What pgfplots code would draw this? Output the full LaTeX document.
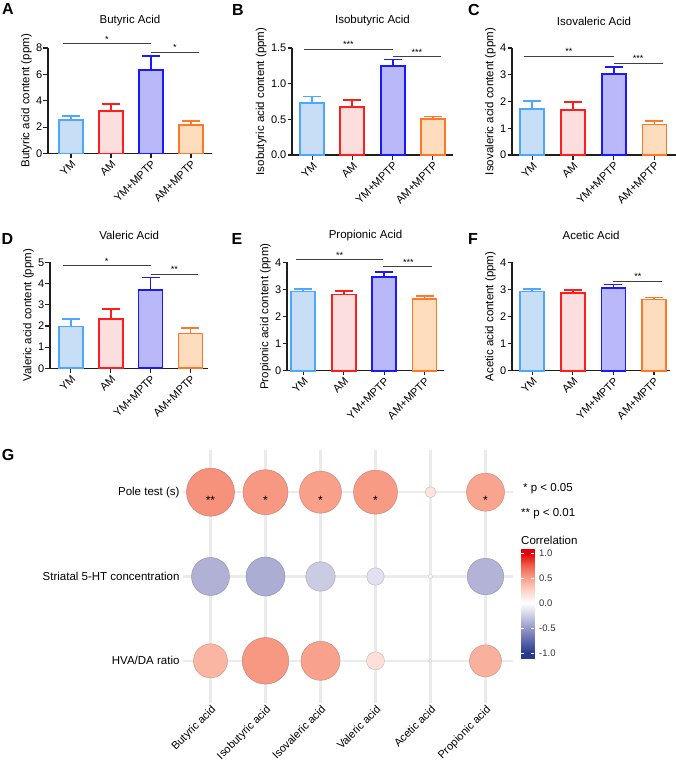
\documentclass[border=0pt]{standalone}
\usepackage{fontspec}
\setmainfont{Liberation Sans}
\usepackage{pgfplots}
\pgfplotsset{compat=1.18}
\usepackage{pgfplotstable}

\definecolor{ymE}{RGB}{77,166,255}
\definecolor{ymF}{RGB}{200,222,246}
\definecolor{amE}{RGB}{255,30,30}
\definecolor{amF}{RGB}{253,222,222}
\definecolor{ympE}{RGB}{25,25,255}
\definecolor{ympF}{RGB}{185,185,250}
\definecolor{ampE}{RGB}{255,120,40}
\definecolor{ampF}{RGB}{253,221,190}
\definecolor{axc}{RGB}{30,30,30}
\definecolor{gridc}{RGB}{235,235,235}

\newcommand{\fs}[1]{\fontsize{#1}{#1}\selectfont}

\pgfplotsset{
  /pgf/number format/assume math mode=true,
  colormap={corr}{rgb255(0cm)=(38,58,140) rgb255(1cm)=(95,105,170) rgb255(2cm)=(150,152,200) rgb255(3cm)=(205,205,228) rgb255(4cm)=(255,255,255) rgb255(5cm)=(252,212,200) rgb255(6cm)=(248,160,138) rgb255(7cm)=(240,95,75) rgb255(8cm)=(228,0,10)},
  barpanel/.style={
    scale only axis, clip=false,
    axis x line*=bottom, axis y line*=left,
    axis line style={line width=1.2pt, color=axc},
    tick style={line width=1.2pt, color=axc},
    tick align=outside, major tick length=4.5pt,
    ymin=0,
    xtick={0,1,2,3}, xticklabels={YM,AM,YM+MPTP,AM+MPTP},
    xticklabel style={rotate=45, anchor=north east, inner sep=1pt, font=\fs{11}},
    yticklabel style={font=\fs{11}, inner sep=1pt},
    ylabel style={font=\fs{11.5}},
    title style={font=\fs{11.5}, at={(0.5,1)}, anchor=center, yshift=21pt},
  },
  bstyle/.style 2 args={
    ybar, bar width=24pt, bar shift=0pt, draw=#1, fill=#2, line width=1.8pt,
    error bars/.cd, y dir=plus, y explicit,
    error bar style={line width=1.8pt, draw=#1, solid},
    error mark options={rotate=90, mark size=9pt, line width=1.8pt, draw=#1, solid},
  },
}

\newcommand{\fourbars}[8]{%
  \addplot[bstyle={ymE}{ymF}] coordinates {(0,#1) +- (0,#2)};
  \addplot[bstyle={amE}{amF}] coordinates {(1,#3) +- (0,#4)};
  \addplot[bstyle={ympE}{ympF}] coordinates {(2,#5) +- (0,#6)};
  \addplot[bstyle={ampE}{ampF}] coordinates {(3,#7) +- (0,#8)};
}
\newcommand{\sig}[5]{%
  \addplot[sharp plot, no marks, line width=0.9pt, color=axc!85] coordinates {(#1,#3) (#2,#3)};
  \node[anchor=base, inner sep=0pt, font=\fs{9}, yshift=1.5pt] at (axis cs:#4,#3) {#5};
}

\pgfplotstableread{
x y c r
1 3 0.56 24
2 3 0.53 22.5
3 3 0.50 21
4 3 0.52 22
5 3 0.15 5.5
6 3 0.48 19
1 2 -0.38 19
2 2 -0.40 19.5
3 2 -0.26 14.7
4 2 -0.15 8.7
5 2 -0.02 2
6 2 -0.37 18.3
1 1 0.40 17
2 1 0.53 23.3
3 1 0.49 19.5
4 1 0.18 9
5 1 0.02 1.5
6 1 0.42 16
}\corrdata

\pgfplotstableread{
x y s
1 3 **
2 3 *
3 3 *
4 3 *
6 3 *
}\stardata

\begin{document}
\begin{tikzpicture}
\useasboundingbox (0pt,0pt) rectangle (676pt,-765pt);

% ---------- A ----------
\begin{axis}[barpanel, at={(48pt,-153.5pt)}, anchor=south west, width=164pt, height=105.5pt,
  xmin=-0.575, xmax=3.525, ymax=8, ytick={0,2,4,6,8},
  title={Butyric Acid}, ylabel={Butyric acid content (ppm)}]
\fourbars{2.52}{0.33}{3.2}{0.56}{6.36}{1.04}{2.15}{0.30}
\sig{-0.2}{2}{8.33}{0.9}{*}
\sig{2}{3.2}{7.7}{2.6}{*}
\end{axis}

% ---------- B ----------
\begin{axis}[barpanel, at={(292pt,-155pt)}, anchor=south west, width=161pt, height=107pt,
  xmin=-0.5, xmax=3.5, ymax=1.5, ytick={0,0.5,1,1.5},
  yticklabel style={/pgf/number format/.cd, fixed, fixed zerofill, precision=1},
  title={Isobutyric Acid}, ylabel={Isobutyric acid content (ppm)}]
\fourbars{0.73}{0.09}{0.675}{0.095}{1.25}{0.09}{0.5}{0.04}
\sig{-0.2}{2}{1.48}{0.9}{***}
\sig{2}{3.2}{1.38}{2.6}{***}
\end{axis}

% ---------- C ----------
\begin{axis}[barpanel, at={(512pt,-155pt)}, anchor=south west, width=164pt, height=107pt,
  xmin=-0.5, xmax=3.53, ymax=4, ytick={0,1,2,3,4},
  title={Isovaleric Acid}, ylabel={Isovaleric acid content (ppm)}]
\fourbars{1.71}{0.31}{1.68}{0.30}{3.02}{0.26}{1.14}{0.14}
\sig{-0.2}{2}{3.69}{0.9}{**}
\sig{2}{3.2}{3.44}{2.6}{***}
\end{axis}

% ---------- D ----------
\begin{axis}[barpanel, at={(50pt,-368.3pt)}, anchor=south west, width=158.4pt, height=106pt,
  xmin=-0.52, xmax=3.45, ymax=5, ytick={0,1,2,3,4,5},
  title={Valeric Acid}, ylabel={Valeric acid content (ppm)}]
\fourbars{1.97}{0.36}{2.33}{0.45}{3.69}{0.59}{1.64}{0.28}
\sig{-0.2}{2}{4.83}{0.9}{*}
\sig{2}{3.2}{4.45}{2.6}{**}
\end{axis}

% ---------- E ----------
\begin{axis}[barpanel, at={(287pt,-370.7pt)}, anchor=south west, width=157pt, height=108.4pt,
  xmin=-0.4, xmax=3.48, ymax=4, ytick={0,1,2,3,4},
  title={Propionic Acid}, ylabel={Propionic acid content (ppm)}]
\fourbars{2.92}{0.10}{2.81}{0.13}{3.47}{0.17}{2.65}{0.11}
\sig{-0.18}{1.96}{4.09}{0.9}{**}
\sig{1.96}{3.19}{3.84}{2.6}{***}
\end{axis}

% ---------- F ----------
\begin{axis}[barpanel, at={(512pt,-370.7pt)}, anchor=south west, width=158.3pt, height=108.4pt,
  xmin=-0.5, xmax=3.4, ymax=4, ytick={0,1,2,3,4},
  title={Acetic Acid}, ylabel={Acetic acid content (ppm)}]
\fourbars{2.92}{0.10}{2.88}{0.10}{3.06}{0.12}{2.63}{0.07}
\sig{2}{3.2}{3.31}{2.6}{**}
\end{axis}

% ---------- G ----------
\begin{axis}[scale only axis, clip=false, at={(183pt,-703pt)}, anchor=south west,
  width=330pt, height=253pt,
  xmin=0.5, xmax=6.5, ymin=0.5, ymax=3.5,
  xtick={1,2,3,4,5,6},
  xticklabels={Butyric acid, Isobutyric acid, Isovaleric acid, Valeric acid, Acetic acid, Propionic acid},
  ytick={1,2,3},
  yticklabels={HVA/DA ratio, Striatal 5-HT concentration, Pole test (s)},
  grid=major, grid style={line width=2.2pt, color=gridc},
  axis line style={draw=none}, major tick length=0pt,
  xticklabel style={rotate=45, anchor=north east, inner sep=1pt, font=\fs{11}},
  yticklabel style={anchor=east, font=\fs{11.5}},
  colormap name=corr, point meta min=-1, point meta max=1]
\addplot[scatter, only marks, mark=*, point meta=explicit,
  visualization depends on={\thisrow{r} \as \rad},
  scatter/@pre marker code/.append style={/tikz/mark size=\rad}]
  table[x=x, y=y, meta=c] {\corrdata};
\addplot[draw=none, mark=none, nodes near coords, point meta=explicit symbolic,
  nodes near coords style={anchor=center, yshift=-8pt, inner sep=0pt, font=\fs{12}, text=black}]
  table[x=x, y=y, meta=s] {\stardata};
\end{axis}

% ---------- colour bar ----------
\begin{axis}[scale only axis, at={(521pt,-658pt)}, anchor=south west,
  width=13pt, height=109pt, xmin=0, xmax=1, ymin=-1.1, ymax=1.08,
  xtick=\empty, ytick={-1,-0.5,0,0.5,1},
  yticklabels={-1.0,-0.5,0.0,0.5,1.0},
  yticklabel pos=right, ytick pos=both,
  axis line style={draw=none}, axis on top,
  tick style={color=white, line width=0.7pt}, major tick length=2.6pt, tick align=inside,
  yticklabel style={anchor=west, inner sep=0pt, xshift=5pt, font=\fs{9.5}, text=black!80},
  colormap name=corr, point meta min=-1, point meta max=1]
\addplot[surf, shader=interp, point meta=explicit] coordinates {
(0,-1.1) [-1] (1,-1.1) [-1]

(0,-1) [-1] (1,-1) [-1]

(0,-0.5) [-0.5] (1,-0.5) [-0.5]

(0,0) [0] (1,0) [0]

(0,0.5) [0.5] (1,0.5) [0.5]

(0,1) [1] (1,1) [1]

(0,1.08) [1] (1,1.08) [1]
};
\end{axis}

% ---------- legend text ----------
\node[anchor=west, inner sep=0pt, font=\fs{11.5}] at (523pt,-489pt) {* p < 0.05};
\node[anchor=west, inner sep=0pt, font=\fs{11.5}] at (521pt,-514pt) {** p < 0.01};
\node[anchor=west, inner sep=0pt, font=\fs{11.5}] at (521pt,-540pt) {Correlation};

% ---------- panel letters ----------
\foreach \L/\X/\Y in {A/8/9, B/238/9.5, C/474/9.5, D/7.5/239, E/237/239, F/473/239, G/8/455}
  \node[inner sep=0pt, font=\fs{16}\bfseries] at (\X pt,-\Y pt) {\L};
\end{tikzpicture}
\end{document}
